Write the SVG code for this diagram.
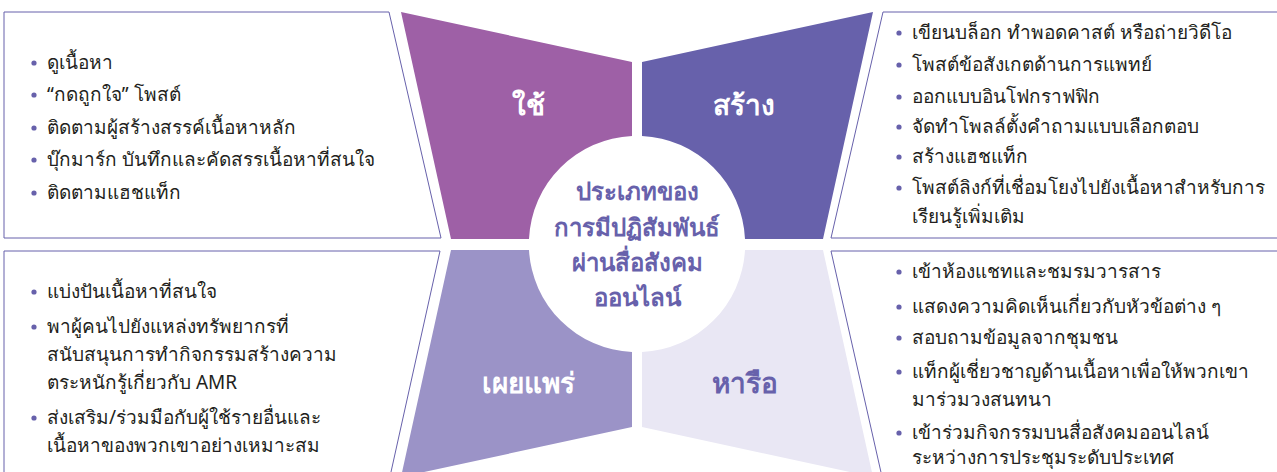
<svg xmlns="http://www.w3.org/2000/svg" width="1277" height="472" viewBox="0 0 1277 472">
<style>
.box{fill:#fff;stroke:#6761ab;stroke-width:1}
.li{font-family:"Noto Sans","DejaVu Sans",sans-serif;font-size:19px;fill:#231f20}
.dot{fill:#6761ab}
.lbl{font-family:"Noto Sans","DejaVu Sans",sans-serif;font-size:28px;font-weight:bold;text-anchor:middle}
.ttl{font-family:"Noto Sans","DejaVu Sans",sans-serif;font-size:24px;font-weight:bold;fill:#6761ab;text-anchor:middle}
</style>
<rect width="1277" height="472" fill="#fff"/>
<g id="box-use">
<path class="box" d="M4,12 L389,12 L441,238 L4,238 Z"/>
<circle class="dot" cx="34" cy="63" r="2.6"/><text class="li" x="47" y="69">ดูเนื้อหา</text>
<circle class="dot" cx="34" cy="95" r="2.6"/><text class="li" x="47" y="101">“กดถูกใจ” โพสต์</text>
<circle class="dot" cx="34" cy="128" r="2.6"/><text class="li" x="47" y="134">ติดตามผู้สร้างสรรค์เนื้อหาหลัก</text>
<circle class="dot" cx="34" cy="160" r="2.6"/><text class="li" x="47" y="166">บุ๊กมาร์ก บันทึกและคัดสรรเนื้อหาที่สนใจ</text>
<circle class="dot" cx="34" cy="193" r="2.6"/><text class="li" x="47" y="199">ติดตามแฮชแท็ก</text>
</g>
<g id="box-create">
<path class="box" d="M883,12 L1290,12 L1290,238 L831,238 Z"/>
<circle class="dot" cx="899" cy="33" r="2.6"/><text class="li" x="912" y="39">เขียนบล็อก ทำพอดคาสต์ หรือถ่ายวิดีโอ</text>
<circle class="dot" cx="899" cy="65" r="2.6"/><text class="li" x="912" y="71">โพสต์ข้อสังเกตด้านการแพทย์</text>
<circle class="dot" cx="899" cy="97" r="2.6"/><text class="li" x="912" y="103">ออกแบบอินโฟกราฟฟิก</text>
<circle class="dot" cx="899" cy="127" r="2.6"/><text class="li" x="912" y="133">จัดทำโพลล์ตั้งคำถามแบบเลือกตอบ</text>
<circle class="dot" cx="899" cy="157" r="2.6"/><text class="li" x="912" y="163">สร้างแฮชแท็ก</text>
<circle class="dot" cx="899" cy="188" r="2.6"/><text class="li" x="912" y="194">โพสต์ลิงก์ที่เชื่อมโยงไปยังเนื้อหาสำหรับการ<tspan x="912" y="223">เรียนรู้เพิ่มเติม</tspan></text>
</g>
<g id="box-share">
<path class="box" d="M4,251 L440,251 L387,490 L4,490 Z"/>
<circle class="dot" cx="34" cy="292" r="2.6"/><text class="li" x="47" y="298">แบ่งปันเนื้อหาที่สนใจ</text>
<circle class="dot" cx="34" cy="327" r="2.6"/><text class="li" x="47" y="333">พาผู้คนไปยังแหล่งทรัพยากรที่<tspan x="47" y="361">สนับสนุนการทำกิจกรรมสร้างความ</tspan><tspan x="47" y="389">ตระหนักรู้เกี่ยวกับ AMR</tspan></text>
<circle class="dot" cx="34" cy="418" r="2.6"/><text class="li" x="47" y="424">ส่งเสริม/ร่วมมือกับผู้ใช้รายอื่นและ<tspan x="47" y="452">เนื้อหาของพวกเขาอย่างเหมาะสม</tspan></text>
</g>
<g id="box-discuss">
<path class="box" d="M831,251 L1290,251 L1290,490 L885,490 Z"/>
<circle class="dot" cx="899" cy="272" r="2.6"/><text class="li" x="912" y="278">เข้าห้องแชทและชมรมวารสาร</text>
<circle class="dot" cx="899" cy="307" r="2.6"/><text class="li" x="912" y="313">แสดงความคิดเห็นเกี่ยวกับหัวข้อต่าง ๆ</text>
<circle class="dot" cx="899" cy="338" r="2.6"/><text class="li" x="912" y="344">สอบถามข้อมูลจากชุมชน</text>
<circle class="dot" cx="899" cy="372" r="2.6"/><text class="li" x="912" y="378">แท็กผู้เชี่ยวชาญด้านเนื้อหาเพื่อให้พวกเขา<tspan x="912" y="406">มาร่วมวงสนทนา</tspan></text>
<circle class="dot" cx="899" cy="433" r="2.6"/><text class="li" x="912" y="439">เข้าร่วมกิจกรรมบนสื่อสังคมออนไลน์<tspan x="912" y="464">ระหว่างการประชุมระดับประเทศ</tspan></text>
</g>
<g id="seg-use">
<path fill="#9e60a6" d="M401,12 L632,62 L632,136 A108,108 0 0 0 529,239 L451,239 Z"/>
<text class="lbl" x="528" y="115" fill="#fff">ใช้</text>
</g>
<g id="seg-create">
<path fill="#6761ab" d="M642,62 L873,12 L823,239 L745,239 A108,108 0 0 0 642,136 Z"/>
<text class="lbl" x="744" y="115" fill="#fff">สร้าง</text>
</g>
<g id="seg-share">
<path fill="#9b93c7" d="M451,250 L529,250 A108,108 0 0 0 632,352 L632,427 L401,477 Z"/>
<text class="lbl" x="528" y="393" fill="#fff">เผยแพร่</text>
</g>
<g id="seg-discuss">
<path fill="#e9e7f4" d="M642,352 A108,108 0 0 0 745,250 L823,250 L873,477 L642,427 Z"/>
<text class="lbl" x="745" y="393" fill="#6761ab">หารือ</text>
</g>
<g id="center">
<text class="ttl" x="637" y="200">ประเภทของ<tspan x="637" y="236">การมีปฏิสัมพันธ์</tspan><tspan x="637" y="271">ผ่านสื่อสังคม</tspan><tspan x="637" y="306">ออนไลน์</tspan></text>
</g>
<g id="connectors"/>
</svg>
